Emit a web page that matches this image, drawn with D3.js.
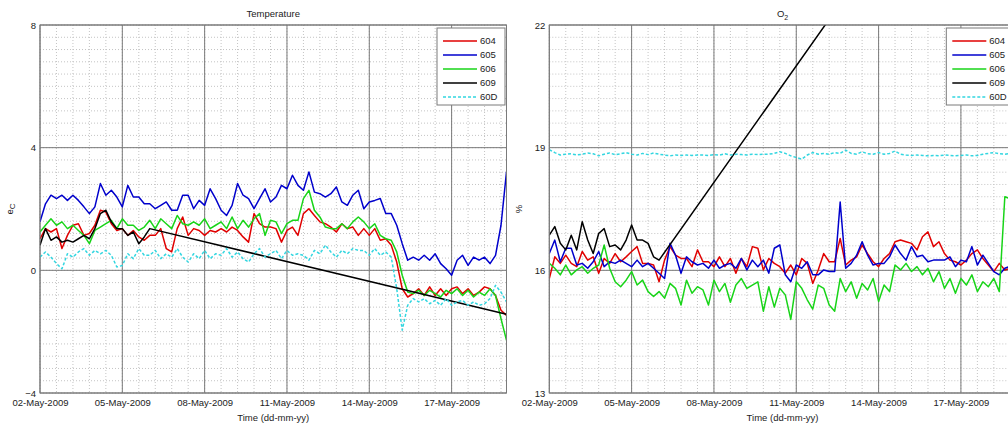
<!DOCTYPE html>
<html>
<head>
<meta charset="utf-8">
<script src="https://cdn.jsdelivr.net/npm/d3@7/dist/d3.min.js"></script>
<style>
  body { margin: 0; background: #fff; }
  text { font-family: "Liberation Sans", Arial, sans-serif; fill: #222; }
</style>
</head>
<body>
<div class="chart-container"></div>
<script>
// ---- data ----
const seriesNames = ["604", "605", "606", "609", "60D"];
const seriesColors = ["#e00000", "#0000cc", "#18d418", "#000000", "#33d6e0"];
const dateTicks = ["02-May-2009", "05-May-2009", "08-May-2009", "11-May-2009", "14-May-2009", "17-May-2009"];
const tempTicks = [-4, 0, 4, 8];
const o2Ticks = [13, 16, 19, 22];

// samples every 0.2 day from 02-May-2009 00:00 to 19-May-2009 00:00 (86 points)
const temp604 = [1.03,1.36,1.25,1.36,0.71,1.14,1.47,1.52,1.14,1.20,1.47,1.96,1.90,1.52,1.30,1.36,1.14,1.30,1.09,0.98,1.14,1.14,1.36,0.71,0.60,1.36,1.74,1.14,1.36,1.30,1.14,1.30,1.25,1.36,1.25,1.41,1.30,1.09,0.92,1.85,1.52,1.41,1.41,
  1.36,0.92,1.30,1.41,1.14,1.85,2.01,1.79,1.58,1.52,1.41,1.25,1.52,1.36,1.41,1.14,1.36,1.14,1.36,0.98,1.03,0.82,0.27,-0.60,-0.87,-0.76,-0.60,-0.82,-0.54,-0.82,-0.60,-0.82,-0.60,-0.54,-0.76,-0.60,-0.82,-0.71,-0.54,-0.60,-0.82,-1.30,-1.47];
const temp605 = [1.58,2.17,2.45,2.34,2.45,2.28,2.45,2.28,2.07,1.85,2.07,2.83,2.45,2.61,2.39,2.07,2.77,2.39,2.39,2.17,2.17,2.01,2.12,2.23,1.96,1.96,2.45,2.45,2.01,2.28,2.12,2.66,2.34,1.96,1.79,2.12,2.83,2.45,2.34,2.01,2.34,2.66,2.23,
  2.39,2.77,2.66,3.10,2.77,2.61,3.21,2.55,2.50,2.39,2.50,2.72,2.23,2.12,2.45,2.61,2.01,2.23,2.28,2.34,1.85,1.85,1.47,0.87,0.33,0.43,0.33,0.49,0.33,0.54,0.22,0.05,-0.16,0.33,0.49,0.16,0.43,0.33,0.43,0.22,0.49,1.47,3.21];
const temp606 = [1.25,1.47,1.68,1.47,1.58,1.36,1.47,1.30,1.14,0.87,1.30,1.41,1.52,1.63,1.36,1.68,1.47,1.47,1.30,1.41,1.63,1.36,1.68,1.52,1.36,1.79,1.52,1.47,1.58,1.47,1.68,1.36,1.47,1.58,1.36,1.74,1.36,1.63,1.41,1.68,1.85,1.14,1.63,
  1.58,1.20,1.52,1.63,1.63,2.34,2.61,1.96,1.74,1.41,1.36,1.36,1.52,1.36,1.58,1.74,1.58,1.36,1.52,1.14,1.03,0.98,0.60,-0.16,-0.71,-0.76,-0.65,-0.82,-0.65,-0.76,-0.87,-0.65,-0.76,-0.60,-0.82,-0.65,-0.87,-0.71,-0.82,-0.60,-0.82,-1.58,-2.28];
const temp60D = [0.43,0.60,0.43,0.22,0.05,0.54,0.43,0.60,0.71,0.49,0.65,0.54,0.65,0.49,0.11,0.16,0.54,0.38,0.71,0.49,0.49,0.65,0.38,0.54,0.43,0.71,0.43,0.27,0.54,0.38,0.65,0.38,0.54,0.49,0.71,0.43,0.60,0.38,0.27,0.54,0.71,0.43,0.54,
  0.65,0.38,0.65,0.49,0.54,0.49,0.33,0.65,0.54,0.82,0.60,0.43,0.65,0.54,0.71,0.65,0.65,0.49,0.71,0.49,0.60,0.43,-0.60,-1.95,-1.14,-0.92,-1.03,-0.92,-1.09,-0.98,-1.14,-0.92,-1.14,-1.03,-0.98,-1.14,-1.03,-1.14,-1.09,-0.92,-0.49,-0.71,-1.03];
// 609 logs until 06-May (every 0.2 day) then one last point at 19-May
const temp609 = [0.82,1.36,0.98,1.09,0.92,0.98,0.92,1.03,1.14,1.03,1.36,1.85,1.96,1.58,1.36,1.36,1.14,1.25,0.87,1.09,1.36,-1.43];

const o2_604 = [15.80,16.33,16.17,16.37,16.17,16.09,16.46,16.25,16.33,15.93,16.29,16.17,16.41,16.21,16.33,16.46,16.58,16.17,16.17,16.13,15.72,16.25,16.58,16.37,16.29,16.29,16.09,16.50,16.21,16.21,16.09,16.33,16.09,16.29,15.93,16.29,16.09,16.58,16.54,16.01,16.29,16.17,16.09,
  15.93,16.13,15.89,16.29,16.17,15.68,16.01,16.41,16.21,16.21,16.78,16.13,16.25,16.33,16.62,16.41,16.21,16.09,16.29,16.41,16.70,16.74,16.70,16.66,16.50,16.82,16.94,16.58,16.70,16.41,16.25,16.21,16.13,16.25,16.41,16.50,16.29,16.13,15.97,16.17,16.01,16.05,16.10];
const o2_605 = [16.41,16.74,16.21,16.54,16.54,16.13,16.17,16.05,16.21,16.46,16.09,16.21,16.17,16.25,16.17,16.09,16.25,16.09,16.17,16.05,15.93,15.80,16.66,16.37,15.93,16.33,16.21,16.13,16.17,16.05,16.25,16.05,16.13,16.17,16.05,16.29,16.01,16.25,16.09,16.25,15.93,16.54,16.62,
  15.89,15.72,16.13,16.05,16.21,15.89,15.89,16.01,15.97,15.97,17.67,16.05,16.17,16.37,16.70,16.37,16.13,16.17,16.17,16.33,16.62,16.41,16.25,16.58,16.33,16.37,16.21,16.25,16.25,16.25,16.33,16.09,16.25,16.21,16.58,16.13,16.37,16.17,15.97,15.89,16.05,16.10,16.15];
const o2_606 = [16.17,16.05,15.89,16.13,15.89,16.01,16.09,15.93,16.05,16.13,16.62,16.05,15.72,15.60,15.76,15.97,15.64,15.76,15.48,15.36,15.48,15.32,15.68,15.56,15.15,15.76,15.44,15.60,15.52,15.15,15.76,15.48,15.68,15.22,15.64,15.80,15.56,15.64,15.72,15.00,15.60,15.10,15.56,
  15.40,14.80,15.72,15.56,15.28,15.05,15.64,15.56,15.15,15.00,15.80,15.48,15.72,15.32,15.68,15.52,15.80,15.24,15.64,15.48,16.13,16.01,16.17,15.97,16.09,15.89,16.05,15.72,15.97,15.56,15.80,15.44,15.80,15.64,15.89,15.48,15.72,15.60,15.80,15.48,17.80,17.75,17.70];
const o2_60D = [18.95,18.88,18.82,18.84,18.85,18.82,18.84,18.87,18.85,18.80,
  18.84,18.87,18.83,18.85,18.88,18.84,18.82,18.86,18.83,18.87,
  18.84,18.82,18.80,18.82,18.81,18.82,18.81,18.82,18.82,18.81,
  18.83,18.82,18.85,18.82,18.84,18.83,18.82,18.84,18.83,18.84,
  18.84,18.86,18.90,18.86,18.80,18.76,18.72,18.82,18.88,18.84,
  18.86,18.84,18.88,18.86,18.94,18.86,18.84,18.90,18.85,18.84,
  18.88,18.84,18.86,18.92,18.84,18.82,18.81,18.82,18.81,18.80,
  18.81,18.80,18.82,18.81,18.80,18.81,18.82,18.80,18.81,18.84,
  18.86,18.88,18.85,18.84,18.86,18.85];
const o2_609 = [16.86,17.07,16.66,16.50,16.86,16.50,17.19,16.74,16.41,16.90,17.02,16.58,16.62,16.50,16.74,17.11,16.74,16.74,16.66,16.33,16.25,28.60];

// ---- layout ----
const width = 1008, height = 428;
const plotTop = 25, plotHeight = 368, panelWidth = 466.5;
const startDate = new Date(2009, 4, 2), endDate = new Date(2009, 4, 19);
const DAY = 864e5;
const parseTick = d3.timeParse("%d-%b-%Y");

const sampleDays = d3.range(86).map(i => i * 0.2);
const shortDays = d3.range(21).map(i => i * 0.2).concat([17]);
const toDate = d => new Date(startDate.getTime() + d * DAY);

function drawPanel(svg, p) {
    const g = svg.append("g").attr("transform", `translate(${p.left}, ${plotTop})`);
    const x = d3.scaleTime().domain([startDate, endDate]).range([0, panelWidth]);
    const y = d3.scaleLinear().domain([p.ticks[0], p.ticks[p.ticks.length - 1]]).range([plotHeight, 0]);

    // minor grid
    const minorX = d3.range(0, 29).map(i => toDate(i * 0.6));
    const minorY = d3.range(0, 31).map(i => p.ticks[0] + i * p.minorStep);
    g.selectAll(".mx").data(minorX).enter().append("line")
        .attr("x1", d => x(d)).attr("x2", d => x(d))
        .attr("y1", 0).attr("y2", plotHeight)
        .attr("stroke", "#c4c4c4").attr("stroke-dasharray", "1,2");
    g.selectAll(".my").data(minorY).enter().append("line")
        .attr("x1", 0).attr("x2", panelWidth)
        .attr("y1", d => y(d)).attr("y2", d => y(d))
        .attr("stroke", "#c4c4c4").attr("stroke-dasharray", "1,2");

    // major grid
    const tickDates = dateTicks.map(parseTick);
    g.selectAll(".gx").data(tickDates).enter().append("line")
        .attr("x1", d => x(d)).attr("x2", d => x(d))
        .attr("y1", 0).attr("y2", plotHeight)
        .attr("stroke", "#7a7a7a");
    g.selectAll(".gy").data(p.ticks).enter().append("line")
        .attr("x1", 0).attr("x2", panelWidth)
        .attr("y1", d => y(d)).attr("y2", d => y(d))
        .attr("stroke", "#7a7a7a");

    // series
    g.append("clipPath").attr("id", "clip" + p.id)
        .append("rect").attr("width", panelWidth).attr("height", plotHeight);
    const line = d3.line().x(d => x(d.date)).y(d => y(d.value));
    const lines = g.append("g").attr("clip-path", `url(#clip${p.id})`);
    p.series.forEach((vals, i) => {
        const days = vals.length === 22 ? shortDays : sampleDays;
        const pts = vals.map((v, j) => ({ date: toDate(days[j]), value: v }));
        lines.append("path")
            .datum(pts)
            .attr("d", line)
            .attr("fill", "none")
            .attr("stroke", seriesColors[i])
            .attr("stroke-width", 1.5)
            .attr("stroke-linejoin", "round")
            .attr("stroke-dasharray", seriesNames[i] === "60D" ? "3,2" : null);
    });

    // frame
    g.append("rect").attr("width", panelWidth).attr("height", plotHeight)
        .attr("fill", "none").attr("stroke", "#7a7a7a");

    // axes
    const xAxis = g.append("g").attr("transform", `translate(0, ${plotHeight})`)
        .call(d3.axisBottom(x).tickValues(tickDates).tickFormat(d3.timeFormat("%d-%b-%Y")).tickSize(0).tickPadding(6));
    const yAxis = g.append("g")
        .call(d3.axisLeft(y).tickValues(p.ticks).tickSize(0).tickPadding(4));
    [xAxis, yAxis].forEach(a => {
        a.select(".domain").remove();
        a.selectAll("text").style("font-size", "9.5px").style("font-family", "Liberation Sans, Arial, sans-serif").attr("fill", "#222");
    });

    // title
    const t = g.append("text").attr("x", panelWidth / 2).attr("y", -8)
        .attr("text-anchor", "middle").style("font-size", "9.5px").text(p.title);
    if (p.titleSub) t.append("tspan").attr("dy", 3).style("font-size", "7px").text(p.titleSub);

    // x label
    g.append("text").attr("x", panelWidth / 2).attr("y", plotHeight + 28)
        .attr("text-anchor", "middle").style("font-size", "9.5px").text("Time (dd-mm-yy)");

    // y label
    const yl = g.append("text")
        .attr("transform", `translate(${p.yLabelX}, ${plotHeight / 2}) rotate(-90)`)
        .attr("text-anchor", "middle").style("font-size", "9.5px").text(p.yLabel);
    if (p.yLabelSub) yl.append("tspan").attr("dy", 2).style("font-size", "8px").text(p.yLabelSub);

    // legend
    const lg = g.append("g").attr("transform", `translate(${panelWidth - 69.5}, 3)`);
    lg.append("rect").attr("width", 68).attr("height", 77)
        .attr("fill", "#fff").attr("stroke", "#7a7a7a");
    seriesNames.forEach((name, i) => {
        const ly = 13 + i * 14;
        lg.append("line").attr("x1", 6).attr("x2", 40).attr("y1", ly).attr("y2", ly)
            .attr("stroke", seriesColors[i]).attr("stroke-width", 1.5)
            .attr("stroke-dasharray", name === "60D" ? "3,2" : null);
        lg.append("text").attr("x", 43).attr("y", ly).attr("dy", "0.35em")
            .style("font-size", "9.5px").text(name);
    });
}

const svg = d3.select(".chart-container").append("svg")
    .attr("width", width).attr("height", height)
    .style("background", "#fff");

drawPanel(svg, {
    id: "t", left: 40, title: "Temperature", ticks: tempTicks, minorStep: 0.4,
    yLabel: "e", yLabelSub: "C", yLabelX: -27,
    series: [temp604, temp605, temp606, temp609, temp60D]
});
drawPanel(svg, {
    id: "o", left: 549.3, title: "O", titleSub: "2", ticks: o2Ticks, minorStep: 0.3,
    yLabel: "%", yLabelX: -27,
    series: [o2_604, o2_605, o2_606, o2_609, o2_60D]
});
</script>
</body>
</html>
